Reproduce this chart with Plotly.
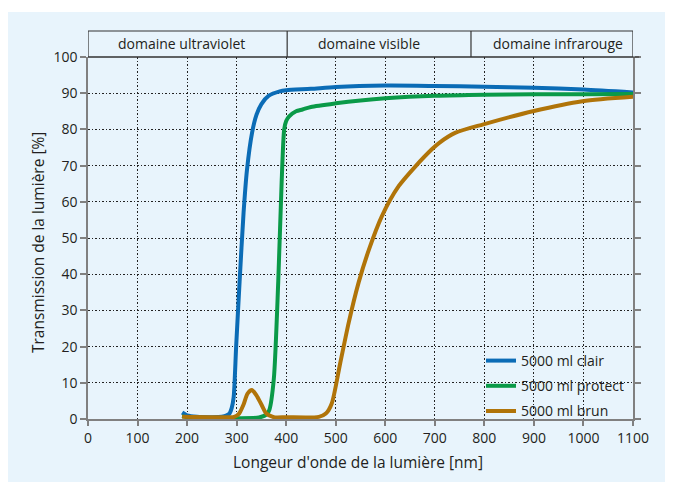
import plotly.graph_objects as go

# ---- data ----
clair_nm = [190, 200, 220, 250, 270, 280, 286, 290, 294, 299, 306, 314, 321, 331, 340, 350, 365, 387, 400, 450, 500, 600, 700, 800, 900, 1000, 1100]
clair_val = [1.8, 1.0, 0.6, 0.5, 0.6, 1.0, 1.6, 3.0, 6.0, 20, 38, 57, 69, 79, 84, 87, 89.3, 90.5, 90.8, 91.2, 91.7, 92.1, 92.0, 91.8, 91.5, 91.0, 90.2]

protect_nm = [190, 200, 250, 300, 345, 360, 366, 375, 384, 391, 396, 400, 406, 420, 433, 450, 500, 550, 600, 700, 800, 900, 1000, 1100]
protect_val = [0.8, 0.5, 0.2, 0.2, 0.4, 1.2, 2.5, 11, 38, 66, 80, 82.3, 83.6, 85, 85.5, 86.2, 87.2, 88, 88.6, 89.3, 89.6, 89.7, 89.7, 89.8]

brun_nm = [190, 250, 295, 305, 314, 322, 331, 340, 350, 360, 375, 400, 466, 480, 492, 509, 526, 546, 567, 593, 627, 661, 694, 709, 742, 798, 900, 998, 1100]
brun_val = [0.6, 0.5, 0.6, 1.5, 4, 7, 8, 6.5, 4, 1.5, 0.5, 0.5, 0.6, 1.5, 4.3, 15.4, 26.5, 37.6, 46.8, 56, 64.3, 69.8, 74.5, 76.3, 79.1, 81.4, 85.1, 87.8, 89.0]

series_names = ["5000 ml clair", "5000 ml protect", "5000 ml brun"]
series_colors = ["#0b6cb6", "#0a9a48", "#b07409"]

band_labels = ["domaine ultraviolet", "domaine visible", "domaine infrarouge"]
band_bounds = [0, 402, 773, 1100]
band_label_x = [188, 567, 949]

x_ticks = list(range(0, 1101, 100))
y_ticks = list(range(0, 101, 10))

FONT = "Open Sans"
TXT = "#231f20"
PANEL = "#e8f4fc"

# ---- geometry (page pixels; the page body has an 8px margin) ----
OFF = 8
W, H = 673 - OFF, 482 - OFF
L, R, T, B = 88 - OFF, 40, 57 - OFF, 63
pw, ph = W - L - R, H - T - B
def px(x): return (x - OFF - L) / pw
def py(y): return (H - B - (y - OFF)) / ph

fig = go.Figure()
for nm, val, name, col in zip([clair_nm, protect_nm, brun_nm],
                              [clair_val, protect_val, brun_val],
                              series_names, series_colors):
    fig.add_trace(go.Scatter(x=nm, y=val, mode="lines", name=name, legendgroup=name,
                             line=dict(color=col, width=4, shape="spline", smoothing=0.7)))

shapes = [
    # light blue panel
    dict(type="rect", xref="paper", yref="paper", x0=px(8), x1=px(673), y0=py(482), y1=py(12),
         fillcolor=PANEL, line=dict(width=0), layer="below"),
    # top band box
    dict(type="rect", xref="x", yref="paper", x0=0, x1=1100, y0=1, y1=py(31),
         line=dict(color="#333333", width=1.2), fillcolor="rgba(0,0,0,0)"),
    # line at 100 extended to the right tick
    dict(type="line", xref="paper", yref="paper", x0=0, x1=px(639), y0=1, y1=1,
         line=dict(color="#333333", width=1.2)),
]
for b in band_bounds[1:-1]:
    shapes.append(dict(type="line", xref="x", yref="paper", x0=b, x1=b, y0=1, y1=py(31),
                       line=dict(color="#333333", width=1.2)))

annotations = []
for lab, xc in zip(band_labels, band_label_x):
    annotations.append(dict(x=xc, y=py(44), xref="x", yref="paper", text=lab, showarrow=False,
                            font=dict(family=FONT, size=14, color=TXT), xanchor="center", yanchor="middle"))
annotations.append(dict(x=px(358), y=py(462), xref="paper", yref="paper",
                        text="Longeur d'onde de la lumière [nm]", showarrow=False,
                        font=dict(family=FONT, size=15.5, color=TXT), xanchor="center", yanchor="middle"))
annotations.append(dict(x=px(38), y=py(243), xref="paper", yref="paper",
                        text="Transmission de la lumière [%]", showarrow=False, textangle=-90,
                        font=dict(family=FONT, size=15.5, color=TXT), xanchor="center", yanchor="middle"))

fig.update_layout(
    width=W, height=H,
    margin=dict(l=L, r=R, t=T, b=B),
    paper_bgcolor="white", plot_bgcolor="rgba(0,0,0,0)",
    shapes=shapes, annotations=annotations,
    font=dict(family=FONT, size=14, color=TXT),
    legend=dict(x=px(481), y=py(345), xanchor="left", yanchor="top",
                bgcolor="rgba(0,0,0,0)", tracegroupgap=4,
                font=dict(family=FONT, size=14, color=TXT)),
    showlegend=True,
)
GRID_DASH = "1.5px,2px"
fig.update_xaxes(range=[0, 1100], tickvals=x_ticks, ticks="outside", ticklen=5,
                 tickcolor="#808080", tickwidth=1.5, showline=True, linecolor="#808080", linewidth=1.5,
                 showgrid=True, gridcolor="#222222", griddash=GRID_DASH, gridwidth=1,
                 zeroline=False, mirror=False, tickfont=dict(family=FONT, size=14, color=TXT))
fig.update_yaxes(range=[0, 100], tickvals=y_ticks, ticks="outside", ticklen=6,
                 tickcolor="#808080", tickwidth=1.5, showline=True, linecolor="#808080", linewidth=1.5,
                 showgrid=True, gridcolor="#222222", griddash=GRID_DASH, gridwidth=1,
                 zeroline=False, mirror="ticks", tickfont=dict(family=FONT, size=14, color=TXT))

fig.write_html("out.html")
